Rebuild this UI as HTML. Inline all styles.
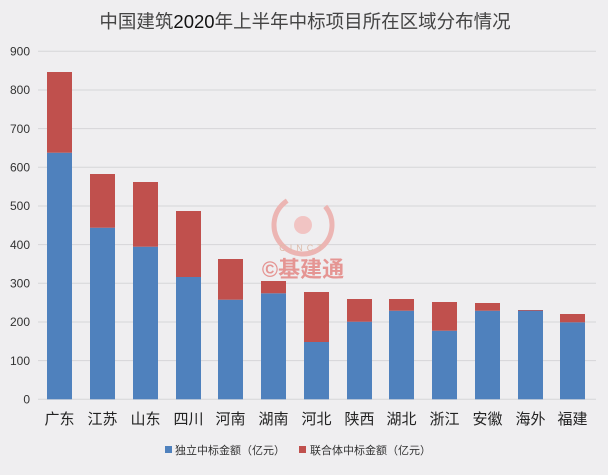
<!DOCTYPE html>
<html><head><meta charset="utf-8"><style>
body{margin:0;background:#efeef0;}
svg text{font-family:"Liberation Sans","Noto Sans CJK SC",sans-serif;}
</style></head><body>
<svg width="608" height="470" xmlns="http://www.w3.org/2000/svg">
<rect width="608" height="470" fill="#efeef0"/>
<text x="305" y="28" text-anchor="middle" font-size="18.5" fill="#444">中国建筑<tspan fill="#111">2020</tspan>年上半年中标项目所在区域分布情况</text>
<g stroke="#d6d5d8" stroke-width="1">
<line x1="38" x2="596" y1="51.3" y2="51.3"/><line x1="38" x2="596" y1="90" y2="90"/>
<line x1="38" x2="596" y1="128.6" y2="128.6"/><line x1="38" x2="596" y1="167.3" y2="167.3"/>
<line x1="38" x2="596" y1="206" y2="206"/><line x1="38" x2="596" y1="244.6" y2="244.6"/>
<line x1="38" x2="596" y1="283.3" y2="283.3"/><line x1="38" x2="596" y1="322" y2="322"/>
<line x1="38" x2="596" y1="360.6" y2="360.6"/><line x1="38" x2="596" y1="399.3" y2="399.3"/>
</g>
<g font-size="12" fill="#333" text-anchor="end">
<text x="30" y="55.5">900</text><text x="30" y="94">800</text><text x="30" y="133">700</text>
<text x="30" y="171.5">600</text><text x="30" y="210">500</text><text x="30" y="249">400</text>
<text x="30" y="287.5">300</text><text x="30" y="326">200</text><text x="30" y="365">100</text>
<text x="30" y="403.5">0</text>
</g>
<circle cx="303" cy="225" r="29" fill="none" stroke="#ecb5b3" stroke-width="5" stroke-dasharray="140 50" transform="rotate(-40 303 225)"/>
<circle cx="303" cy="225" r="9" fill="#f1c4c3"/>
<text x="303" y="251" text-anchor="middle" font-size="9" fill="#dba" letter-spacing="4">CINCT</text>
<text x="303" y="277" text-anchor="middle" font-size="22" font-weight="bold" fill="#e59593">©基建通</text>
<g>
<rect x="47" y="152.7" width="25" height="246.6" fill="#4f81bd"/><rect x="47" y="72" width="25" height="80.7" fill="#c0504d"/>
<rect x="90" y="227.7" width="25" height="171.6" fill="#4f81bd"/><rect x="90" y="174" width="25" height="53.7" fill="#c0504d"/>
<rect x="133" y="246.7" width="25" height="152.6" fill="#4f81bd"/><rect x="133" y="182" width="25" height="64.7" fill="#c0504d"/>
<rect x="176" y="277" width="25" height="122.3" fill="#4f81bd"/><rect x="176" y="211" width="25" height="66" fill="#c0504d"/>
<rect x="218" y="299.7" width="25" height="99.6" fill="#4f81bd"/><rect x="218" y="259" width="25" height="40.7" fill="#c0504d"/>
<rect x="261" y="293.3" width="25" height="106" fill="#4f81bd"/><rect x="261" y="281" width="25" height="12.3" fill="#c0504d"/>
<rect x="304" y="342" width="25" height="57.3" fill="#4f81bd"/><rect x="304" y="292" width="25" height="50" fill="#c0504d"/>
<rect x="347" y="321.7" width="25" height="77.6" fill="#4f81bd"/><rect x="347" y="299" width="25" height="22.7" fill="#c0504d"/>
<rect x="389" y="310.7" width="25" height="88.6" fill="#4f81bd"/><rect x="389" y="299" width="25" height="11.7" fill="#c0504d"/>
<rect x="432" y="330.7" width="25" height="68.6" fill="#4f81bd"/><rect x="432" y="302" width="25" height="28.7" fill="#c0504d"/>
<rect x="475" y="310.7" width="25" height="88.6" fill="#4f81bd"/><rect x="475" y="303" width="25" height="7.7" fill="#c0504d"/>
<rect x="518" y="310.5" width="25" height="88.8" fill="#4f81bd"/><rect x="518" y="310" width="25" height="0.7" fill="#c0504d"/>
<rect x="560" y="322.3" width="25" height="77" fill="#4f81bd"/><rect x="560" y="314" width="25" height="8.3" fill="#c0504d"/>
</g>
<g font-size="15" fill="#222" text-anchor="middle">
<text x="59.5" y="424">广东</text><text x="102.5" y="424">江苏</text><text x="145.5" y="424">山东</text>
<text x="188.5" y="424">四川</text><text x="230.5" y="424">河南</text><text x="273.5" y="424">湖南</text>
<text x="316.5" y="424">河北</text><text x="359.5" y="424">陕西</text><text x="401.5" y="424">湖北</text>
<text x="444.5" y="424">浙江</text><text x="487.5" y="424">安徽</text><text x="530.5" y="424">海外</text>
<text x="572.5" y="424">福建</text>
</g>
<rect x="165" y="446" width="7" height="7" fill="#4f81bd"/>
<text x="175" y="454" font-size="11" fill="#333">独立中标金额（亿元）</text>
<rect x="299" y="446" width="7" height="7" fill="#c0504d"/>
<text x="310" y="454" font-size="11" fill="#333">联合体中标金额（亿元）</text>
</svg>
</body></html>
